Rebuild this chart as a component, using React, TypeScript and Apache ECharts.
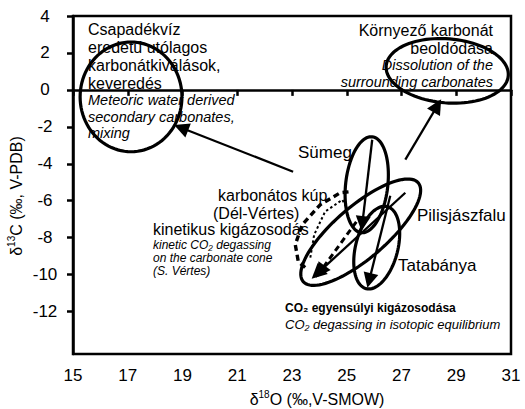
import React, { useEffect, useRef } from 'react';
import * as echarts from 'echarts';

const yTickValues = [4, 2, 0, -2, -4, -6, -8, -10, -12];

// ellipses: endpoints of the major axis (δ18O, δ13C) and half-width in δ18O units
const ellipseLabels = ['Meteoric', 'Dissolution', 'Sümeg', 'Pilisjászfalu', 'Tatabánya'];
const ellipseStart = [[17.12, 2.59], [26.44, 1.3], [25.93, -2.54], [23.41, -10.38], [26.48, -6.32]];
const ellipseEnd = [[17.12, -3.35], [30.9, 0.76], [25.53, -7.73], [27.61, -5.03], [25.71, -10.76]];
const ellipseHalfWidth = [1.86, 1.17, 0.77, 0.95, 0.77];

// solid arrows
const arrowStart = [[23.04, -4.43], [27.14, -3.78], [25.93, -2.7], [27.14, -5.57], [26.59, -5.73]];
const arrowEnd = [[18.95, -2.05], [28.31, -0.86], [25.57, -7.24], [23.92, -9.95], [25.82, -10.32]];

// karbonátos kúp (Dél-Vértes)
const dashedArrow = [[25.35, -7.14], [24.03, -9.84]];
const coneOutline = [[23.48, -9.62], [23.23, -9.3], [23.12, -8.38], [23.37, -7.3], [24.03, -6.22], [24.76, -5.57], [25.13, -5.51]];
const conePath = [[23.67, -9.08], [23.81, -7.84], [24.21, -6.59], [24.84, -5.95], [24.95, -6.27]];

const FONT = "'Liberation Sans', Arial, sans-serif";

function txt(x: number, y: number, text: string, size: number, opts: any = {}) {
  return {
    type: 'text',
    x,
    y,
    z: 10,
    silent: true,
    style: {
      text,
      fontSize: size,
      fontFamily: opts.family || FONT,
      fontStyle: opts.italic ? 'italic' : 'normal',
      fontWeight: opts.bold ? 'bold' : 'normal',
      fill: '#000',
      textAlign: opts.align || 'left',
      textVerticalAlign: 'middle',
    },
  };
}

export default function App() {
  const ref = useRef<HTMLDivElement>(null);
  useEffect(() => {
    if (!ref.current) return;
    const chart = echarts.init(ref.current, undefined, { renderer: 'svg' });
    const ellipseData = ellipseStart.map((s, i) => ({
      name: ellipseLabels[i],
      value: [s[0], s[1], ellipseEnd[i][0], ellipseEnd[i][1], ellipseHalfWidth[i]],
    }));
    const option: any = {
      animation: false,
      grid: { left: 73, top: 16, width: 438, height: 338, show: true, borderColor: '#000', borderWidth: 2.5, backgroundColor: 'transparent' },
      xAxis: {
        type: 'value', min: 15, max: 31, interval: 2,
        axisLine: { lineStyle: { color: '#000', width: 2.5 } },
        axisTick: { show: true, length: 6, lineStyle: { color: '#000', width: 2.5 } },
        axisLabel: { fontSize: 17, color: '#000', margin: 13, fontFamily: FONT },
        splitLine: { show: false },
      },
      yAxis: {
        type: 'value', min: -14.3, max: 4,
        axisLine: { show: true, lineStyle: { color: '#000', width: 2.5 } },
        axisTick: { show: true, length: 6, customValues: yTickValues, lineStyle: { color: '#000', width: 2.5 } },
        axisLabel: { fontSize: 17, color: '#000', margin: 28, align: 'center', customValues: yTickValues, fontFamily: FONT },
        splitLine: { show: false },
      },
      series: [
        {
          type: 'custom',
          coordinateSystem: 'cartesian2d',
          clip: false,
          silent: true,
          data: ellipseData,
          renderItem: (params: any, api: any) => {
            const a = api.coord([api.value(0), api.value(1)]);
            const b = api.coord([api.value(2), api.value(3)]);
            const hw = api.size([api.value(4), 0])[0];
            const cx = (a[0] + b[0]) / 2;
            const cy = (a[1] + b[1]) / 2;
            const dx = (b[0] - a[0]) / 2;
            const dy = (b[1] - a[1]) / 2;
            const len = Math.hypot(dx, dy);
            const ux = dx / len;
            const uy = dy / len;
            const pts: number[][] = [];
            for (let k = 0; k < 96; k++) {
              const t = (k / 96) * Math.PI * 2;
              const c = Math.cos(t);
              const s = Math.sin(t);
              pts.push([cx + len * c * ux - hw * s * uy, cy + len * c * uy + hw * s * ux]);
            }
            return { type: 'polygon', shape: { points: pts }, style: { fill: 'none', stroke: '#000', lineWidth: 3.2 } };
          },
        },
        {
          type: 'lines',
          coordinateSystem: 'cartesian2d',
          silent: true,
          symbol: ['none', 'triangle'],
          symbolSize: 15,
          lineStyle: { color: '#000', width: 2.3, opacity: 1, curveness: 0 },
          data: arrowStart.map((s, i) => ({ coords: [s, arrowEnd[i]] })),
          z: 4,
        },
        {
          type: 'lines',
          coordinateSystem: 'cartesian2d',
          silent: true,
          symbol: ['none', 'triangle'],
          symbolSize: 15,
          lineStyle: { color: '#000', width: 3, opacity: 1, type: [6, 4] },
          data: [{ coords: dashedArrow }],
          z: 4,
        },
        {
          type: 'lines',
          coordinateSystem: 'cartesian2d',
          polyline: true,
          silent: true,
          symbol: ['none', 'none'],
          lineStyle: { color: '#000', width: 3.4, opacity: 1, type: [6, 4] },
          data: [{ coords: coneOutline }],
          z: 4,
        },
        {
          type: 'lines',
          coordinateSystem: 'cartesian2d',
          polyline: true,
          silent: true,
          symbol: ['none', 'triangle'],
          symbolSize: 12,
          lineStyle: { color: '#000', width: 2, opacity: 1, type: [2.5, 2.5] },
          data: [{ coords: conePath }],
          z: 4,
        },
      ],
      graphic: [
        txt(88, 29, 'Csapadékvíz', 16),
        txt(88, 47, 'eredetű utólagos', 16),
        txt(88, 65, 'karbonátkiválások,', 16),
        txt(88, 83, 'keveredés', 16),
        txt(88, 100, 'Meteoric water derived', 14.5, { italic: true }),
        txt(88, 117, 'secondary carbonates,', 14.5, { italic: true }),
        txt(88, 133, 'mixing', 14.5, { italic: true }),
        txt(493, 30, 'Környező karbonát', 16, { align: 'right' }),
        txt(493, 48, 'beoldódása', 16, { align: 'right' }),
        txt(493, 65, 'Dissolution of the', 14.5, { align: 'right', italic: true }),
        txt(493, 82, 'surrounding carbonates', 14.5, { align: 'right', italic: true }),
        txt(298, 152, 'Sümeg', 17),
        txt(417, 215, 'Pilisjászfalu', 17),
        txt(398, 265, 'Tatabánya', 17),
        txt(218, 195, 'karbonátos kúp', 16),
        txt(213, 213, '(Dél-Vértes)', 16),
        txt(153, 229, 'kinetikus kigázosodás', 16),
        txt(153, 245, 'kinetic CO₂ degassing', 12, { italic: true }),
        txt(153, 258, 'on the carbonate cone', 12, { italic: true }),
        txt(153, 271, '(S. Vértes)', 12, { italic: true }),
        txt(285, 308, 'CO₂ egyensúlyi kigázosodása', 12, { bold: true, family: "'Liberation Sans Narrow', 'Arial Narrow', sans-serif" }),
        txt(285, 324, 'CO₂ degassing in isotopic equilibrium', 13, { italic: true }),
        {
          type: 'text', x: 317, y: 398, z: 10, silent: true,
          style: {
            text: '{n|δ}{s|18}{n|O (‰,V-SMOW)}',
            textAlign: 'center', textVerticalAlign: 'middle', fill: '#000',
            rich: {
              n: { fontSize: 16, fontFamily: FONT, lineHeight: 18, verticalAlign: 'bottom', fill: '#000' },
              s: { fontSize: 10, fontFamily: FONT, lineHeight: 18, verticalAlign: 'top', fill: '#000' },
            },
          },
        },
        {
          type: 'text', x: 15, y: 196, z: 10, silent: true, rotation: Math.PI / 2,
          style: {
            text: '{n|δ}{s|13}{n|C (‰, V-PDB)}',
            textAlign: 'center', textVerticalAlign: 'middle', fill: '#000',
            rich: {
              n: { fontSize: 16, fontFamily: FONT, lineHeight: 18, verticalAlign: 'bottom', fill: '#000' },
              s: { fontSize: 10, fontFamily: FONT, lineHeight: 18, verticalAlign: 'top', fill: '#000' },
            },
          },
        },
      ],
    };
    chart.setOption(option);
    return () => chart.dispose();
  }, []);
  return <div ref={ref} style={{ position: 'fixed', left: 0, top: 0, width: 525, height: 409, background: '#fff' }} />;
}
